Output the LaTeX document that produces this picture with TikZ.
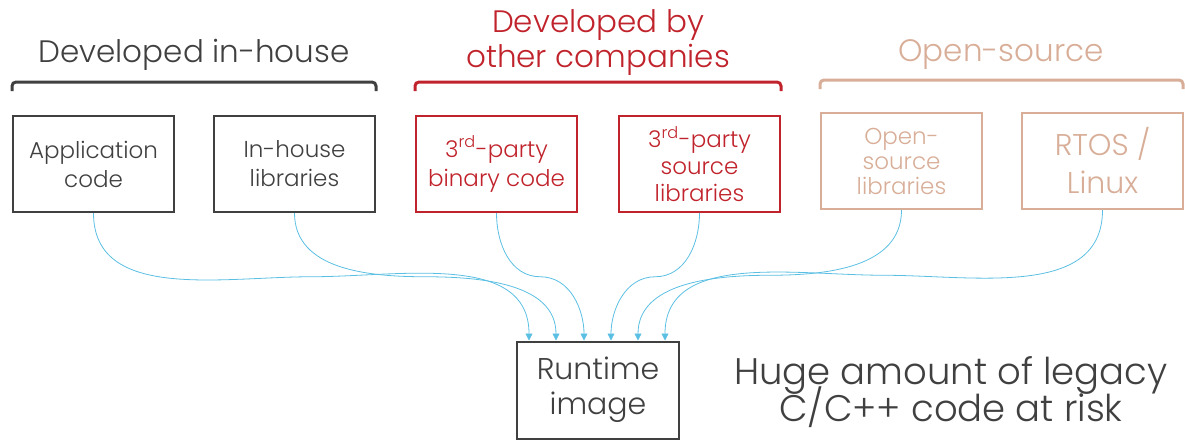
\documentclass[tikz,border=0pt]{standalone}
\usepackage{fontspec}
\setmainfont{Poppins Light}
\usetikzlibrary{arrows.meta,calc}
\definecolor{inkgray}{HTML}{404040}
\definecolor{corpred}{HTML}{C0232B}
\definecolor{ossbeige}{HTML}{D8AE98}
\definecolor{linkblue}{HTML}{5BBFE3}
\tikzset{
	srcbox/.style={draw, line width=2pt, minimum width=161pt, minimum height=96pt, align=center, inner sep=0pt, font=\fontsize{23}{29}\selectfont},
	grouphead/.style={align=center, font=\fontsize{31}{35}\selectfont},
	brace/.style={line width=3pt, rounded corners=4pt},
	feed/.style={draw=linkblue, line width=.8pt, -{Triangle[length=7pt,width=7pt]}},
}
\begin{document}
\begin{tikzpicture}[x=1pt,y=-1pt]
		\useasboundingbox (0,0) rectangle (1185,440);
		% group headings and brackets
		\node [grouphead, inkgray] (hin) at (194,55) {Developed in-house};
		\node [grouphead, corpred] (hco) at (598,43) {Developed by\\other companies};
		\node [grouphead, ossbeige] (hos) at (1001,55) {Open-source};
		\draw [brace, inkgray]  (12,91) -- (12,82) -- (376,82) -- (376,91);
		\draw [brace, corpred]  (415,91) -- (415,82) -- (781,82) -- (781,91);
		\draw [brace, ossbeige] (820,89) -- (820,80) -- (1183,80) -- (1183,89);
		% sources
		\node [srcbox, inkgray]  (app) at (93.5,164)   {Application\\code};
		\node [srcbox, inkgray]  (ihl) at (294.5,164)  {In-house\\libraries};
		\node [srcbox, corpred]  (bin) at (496.5,164)  {3\textsuperscript{rd}-party\\binary code};
		\node [srcbox, corpred, font=\fontsize{23}{27}\selectfont]  (tsl) at (699.5,164)  {3\textsuperscript{rd}-party\\source\\libraries};
		\node [srcbox, ossbeige, font=\fontsize{23}{25}\selectfont] (osl) at (901.5,161)  {Open-\\source\\libraries};
		\node [srcbox, ossbeige, font=\fontsize{30}{38}\selectfont] (rtos) at (1102.5,161) {RTOS /\\Linux};
		% target
		\node [srcbox, inkgray, minimum width=162pt, minimum height=97pt, font=\fontsize{30}{35}\selectfont] (rt) at (598,390) {Runtime\\image};
		\node [align=center, inkgray, font=\fontsize{37}{33}\selectfont] (risk) at (951,392) {Huge amount of legacy\\[-8pt]C/C++ code at risk};
		% links
		\foreach \k/\dx in {1/13, 2/40, 3/68, 4/95, 5/122, 6/149}
			\coordinate (in\k) at ([xshift=\dx pt]rt.north west);
		\foreach \src/\k in {app/1, ihl/2, bin/3}
			\draw [feed] (\src.south) to [out=-90, in=180] ($(\src.south)!.5!(in\k)$) to [out=0, in=90] (in\k);
		\foreach \src/\k in {tsl/4, osl/5, rtos/6}
			\draw [feed] (\src.south) to [out=-90, in=0] ($(\src.south)!.5!(in\k)$) to [out=180, in=90] (in\k);
	\end{tikzpicture}
\end{document}
